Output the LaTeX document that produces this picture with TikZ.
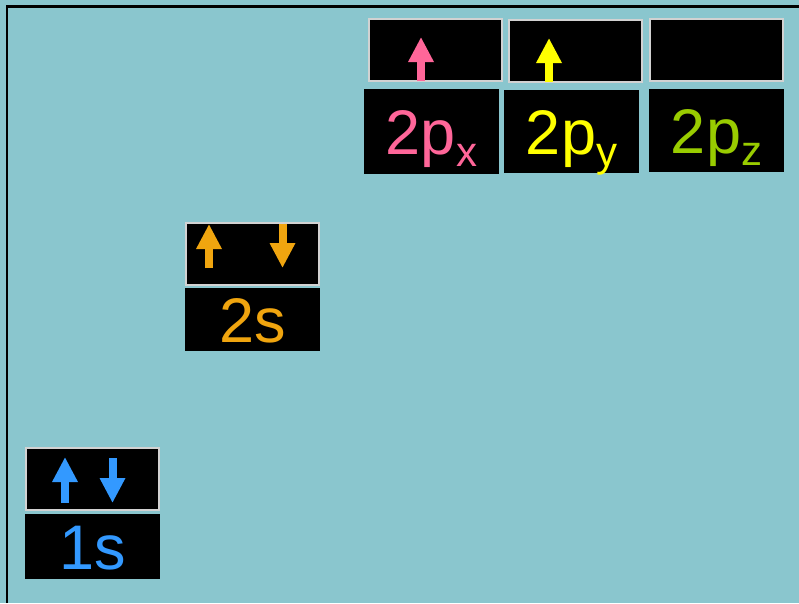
\documentclass[tikz,border=0pt]{standalone}
\usepackage{fontspec}
\setmainfont{Liberation Sans}
\usetikzlibrary{arrows.meta,positioning}
\definecolor{orbbg}   {RGB}{138,198,206}
\definecolor{boxedge} {RGB}{210,210,210}
\definecolor{sblue}   {RGB}{ 51,153,255}
\definecolor{sorange} {RGB}{240,165, 15}
\definecolor{ppink}   {RGB}{255,102,153}
\definecolor{pyellow} {RGB}{255,255,  0}
\definecolor{pgreen}  {RGB}{153,204,  0}
\newcommand{\porb}[1]{2p\raisebox{-12pt}{\fontsize{42}{42}\selectfont #1}}

\begin{document}
\begin{tikzpicture}[
    x=1pt, y=-1pt,
    orb/.style={draw=boxedge, fill=black, line width=2pt, minimum width=133pt, minimum height=62pt, inner sep=0pt},
    lvl/.style={fill=black, minimum width=135pt, minimum height=#1, inner sep=0pt, text height=45pt, text depth=0pt, font=\fontsize{63}{63}\selectfont},
    lvl/.default=65pt,
    spin/.style={line width=8pt, -{Triangle[width=24pt,length=25pt]}}
]
    % Background and frame
    \fill[orbbg] (0,0) rectangle (799,603);
    \useasboundingbox (0,0) rectangle (799,603);
    \draw[line width=2.5pt] (7,603) -- (7,6.3) -- (799,6.3);

    % 1s level
    \node[orb] (b1s) at (92,479) {};
    \node[lvl, text=sblue] (l1s) at (92.5,546.5) {1s};
    \draw[spin, sblue] (65,503) -- (65,457);
    \draw[spin, sblue] (112.5,458) -- (112.5,503);

    % 2s level
    \node[orb] (b2s) at (252,254) {};
    \node[lvl=63pt, text=sorange] (l2s) at (252.5,319.5) {2s};
    \draw[spin, sorange] (209,268) -- (209,224);
    \draw[spin, sorange] (282.5,224) -- (282.5,268);

    % 2p level
    \node[orb] (b2px) at (435.5,49.5) {};
    \node[orb] (b2py) at (575.5,50.5) {};
    \node[orb] (b2pz) at (716.5,49.5) {};
    \node[lvl=85pt, text=ppink] (l2px) at (431.5,131.5) {\porb{x}};
    \node[lvl=83pt, text=pyellow] (l2py) at (571.5,131.5) {\porb{y}};
    \node[lvl=83pt, text=pgreen] (l2pz) at (716.5,130.5) {\porb{z}};
    \draw[spin, ppink] (421,81) -- (421,37);
    \draw[spin, pyellow] (549,82) -- (549,38);
\end{tikzpicture}
\end{document}
